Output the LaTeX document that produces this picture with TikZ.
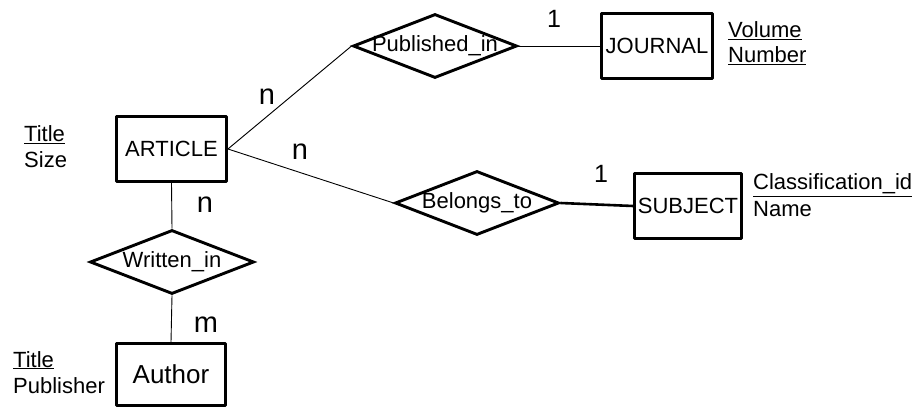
\documentclass[tikz,border=0pt]{standalone}
\usepackage{fontspec}
\setmainfont{Liberation Sans}
\usetikzlibrary{shapes.geometric}
\tikzset{
    entitybox/.style={draw, line width=2.9pt, line join=round, minimum width=110pt, minimum height=65pt, inner sep=0pt, font=\fontsize{22}{26}\selectfont},
    relbox/.style={draw, diamond, line width=2.9pt, minimum width=164pt, minimum height=64pt, inner sep=0pt},
    reltext/.style={inner sep=0pt, font=\fontsize{22}{26}\selectfont},
    attrtext/.style={anchor=base west, inner sep=0pt, font=\fontsize{22}{26}\selectfont},
    cardtext/.style={anchor=base, inner sep=0pt, font=\fontsize{29}{34}\selectfont},
    conn/.style={line width=0.9pt},
}
\begin{document}
\begin{tikzpicture}[x=1pt, y=-1pt]
    \def\entity#1#2#3#4#5{%
        \node[entitybox, #1] (#2) at (#3,#4) {#5};
    }

    \def\relship#1#2#3#4{%
        \node[relbox] (#1) at (#2,#3) {};
        \node[reltext] (#1text) at (#1) {#4};
    }

    \def\attr#1#2#3#4{%
        \node[attrtext] (#1) at (#2,#3) {#4};
    }

    \useasboundingbox (0,0) rectangle (914,409);

    \entity{}{article}{171.5}{149}{ARTICLE}
    \entity{minimum width=111pt}{journal}{657}{46}{JOURNAL}
    \entity{minimum width=107pt}{subject}{688}{206}{SUBJECT}
    \entity{minimum width=109pt, minimum height=62pt, font=\fontsize{26}{30}\selectfont}{author}{171}{374.5}{Author}

    \relship{published}{435}{46}{Published\_in}
    \relship{belongs}{477}{203}{Belongs\_to}
    \relship{written}{172}{262}{Written\_in}

    \attr{articletitle}{24}{142}{\underline{Title}}
    \attr{articlesize}{24}{168}{Size}
    \attr{journalvolume}{728}{38}{\underline{Volume}}
    \attr{journalnumber}{728}{63}{\underline{Number}}
    \attr{subjectid}{753}{190}{\underline{Classification\_id}}
    \attr{subjectname}{753}{217}{Name}
    \attr{authortitle}{13}{367}{\underline{Title}}
    \attr{authorpublisher}{13}{393}{Publisher}

    \draw[conn] (article.east) -- (published.west);
    \draw[conn] (published.east) -- (journal.west);
    \draw[conn] (article.east) -- (belongs.west);
    \draw[conn, line width=2.6pt] (belongs.east) -- (subject.west);
    \draw[conn] (article.south) -- (written.north);
    \draw[conn] (written.south) -- (author.north);

    \node[cardtext] (cardpub) at (267,105) {n};
    \node[cardtext, font=\fontsize{25}{30}\selectfont] (cardjournal) at (554,28) {1};
    \node[cardtext] (cardbelongs) at (300,160) {n};
    \node[cardtext, font=\fontsize{25}{30}\selectfont] (cardsubject) at (601,183) {1};
    \node[cardtext] (cardwritten) at (205,213) {n};
    \node[cardtext] (cardauthor) at (206,332) {m};
\end{tikzpicture}
\end{document}
